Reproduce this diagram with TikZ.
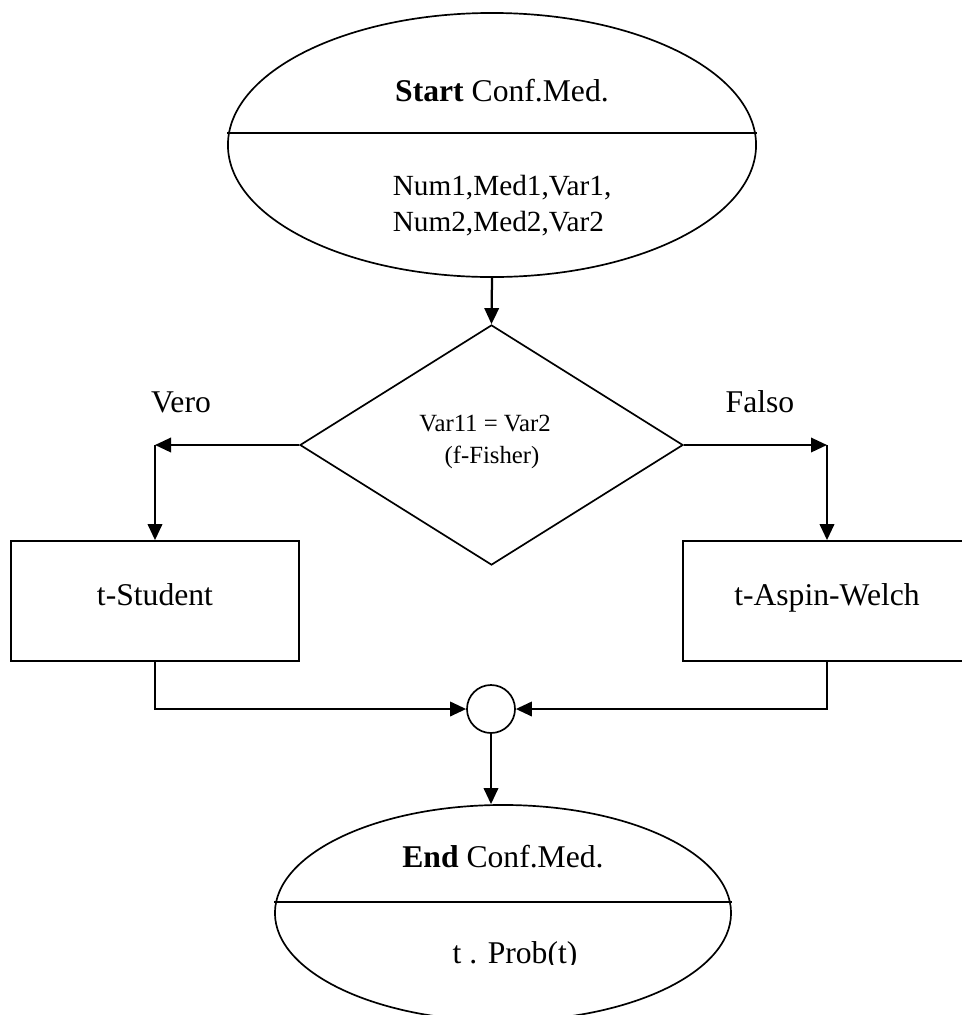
\documentclass[tikz,border=0pt]{standalone}
\usepackage{fontspec}
\setmainfont{Liberation Serif}
\usetikzlibrary{shapes.geometric,arrows.meta}

\begin{document}
\begin{tikzpicture}[x=0.025cm,y=-0.025cm, line width=1.2pt,
  >={Triangle[length=0.4cm,width=0.36cm]},
  txt/.style={anchor=base,inner sep=0pt,font=\fontsize{22.5}{27}\selectfont},
  mtxt/.style={anchor=base west,inner sep=0pt,font=\fontsize{20.8}{25}\selectfont},
  stxt/.style={anchor=base,inner sep=0pt,font=\fontsize{17.6}{21}\selectfont},
  box/.style={draw,rectangle,minimum width=7.2cm,minimum height=3cm},
  oval/.style={draw,ellipse,inner sep=0pt},
  flow/.style={->,line width=1.6pt}]

 \useasboundingbox (0,0) rectangle (962,1015);

	%start
 \node[oval,minimum width=13.2cm,minimum height=6.6cm] (start) at (492,145) {};
 \draw ([yshift=0.3cm]start.west) -- ([yshift=0.3cm]start.east);
 \node[txt] (startT) at (502,101) {\textbf{Start} Conf.Med.};
 \node[mtxt] (in1) at (392,195) {Num1,Med1,Var1,};
 \node[mtxt] (in2) at (392,231) {Num2,Med2,Var2};

	%test
 \def\cy{445};
 \node[draw,diamond,minimum width=9.575cm,minimum height=6cm,inner sep=0pt] (dec) at (491.5,\cy) {};
 \node[stxt] (decT) at (485,431) {Var11 = Var2};
 \node[stxt] (decB) at (492,463) {(f-Fisher)};
 \node[txt] (vero) at (181,412) {Vero};
 \node[txt] (falso) at (760,412) {Falso};

	%branches
    \foreach \name/\x/\txt in {stud/155/t-Student, welch/827/t-Aspin-Welch}{
         \node[box] (\name) at (\x,601) {};
         \node[txt] (\name-t) at (\x,605) {\txt};
         \coordinate (\name-c) at (\x,\cy);
    }

 \node[draw,circle,minimum size=1.2cm,inner sep=0pt] (join) at (491,709) {};

	%end
 \node[oval,minimum width=11.4cm,minimum height=5.4cm] (stop) at (503,913) {};
 \draw ([yshift=0.275cm]stop.west) -- ([yshift=0.275cm]stop.east);
 \node[txt] (stopT) at (503,867) {\textbf{End} Conf.Med.};
 \begin{scope}
   \clip (0,0) rectangle (962,964);
   \node[txt] (out) at (515,963) {t . Prob(t)};
 \end{scope}

	%arrows
 \draw[flow] (start.south) -- (dec.north);
 \draw[flow] (dec.west) -- (stud-c);
 \draw[flow] (stud-c) -- (stud.north);
 \draw[flow] (dec.east) -- (welch-c);
 \draw[flow] (welch-c) -- (welch.north);
 \draw[flow] (stud.south) |- (join.west);
 \draw[flow] (welch.south) |- (join.east);
 \draw[flow] (join.south) -- (join.south |- stop.north);

\end{tikzpicture}
\end{document}
